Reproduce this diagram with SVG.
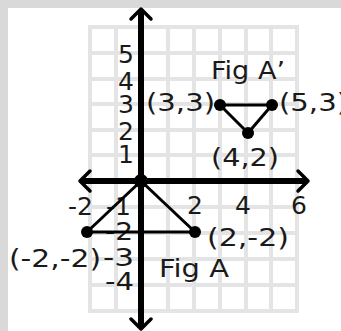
<svg xmlns="http://www.w3.org/2000/svg" width="341" height="331" viewBox="0 0 341 331">
<style>
text{font-family:"DejaVu Sans","Liberation Sans",sans-serif;font-size:25px;fill:#1a1a1a}
.grid line{stroke:#e4e4e4;stroke-width:4}
.axis{stroke:#000;stroke-width:6;fill:none}
.head{stroke:#000;stroke-width:3.5;fill:none;stroke-linecap:round;stroke-linejoin:round}
.edge{stroke:#000;stroke-width:3;fill:none}
.dot{fill:#000}
.e{text-anchor:end}
.m{text-anchor:middle}
</style>
<rect width="341" height="331" fill="#d9d9d9"/>
<rect x="8" y="8" width="333" height="323" fill="#fff"/>
<g class="grid">
<line x1="90" y1="25" x2="90" y2="313"/>
<line x1="116" y1="25" x2="116" y2="313"/>
<line x1="168" y1="25" x2="168" y2="313"/>
<line x1="194" y1="25" x2="194" y2="313"/>
<line x1="220" y1="25" x2="220" y2="313"/>
<line x1="246" y1="25" x2="246" y2="313"/>
<line x1="271" y1="25" x2="271" y2="313"/>
<line x1="297" y1="25" x2="297" y2="313"/>
<line x1="88" y1="27" x2="299" y2="27"/>
<line x1="88" y1="53" x2="299" y2="53"/>
<line x1="88" y1="79" x2="299" y2="79"/>
<line x1="88" y1="104" x2="299" y2="104"/>
<line x1="88" y1="130" x2="299" y2="130"/>
<line x1="88" y1="155" x2="299" y2="155"/>
<line x1="88" y1="207" x2="299" y2="207"/>
<line x1="88" y1="233" x2="299" y2="233"/>
<line x1="88" y1="259" x2="299" y2="259"/>
<line x1="88" y1="285" x2="299" y2="285"/>
<line x1="88" y1="311" x2="299" y2="311"/>
</g>
<g id="axes">
<line class="axis" x1="141" y1="11" x2="141" y2="327"/>
<line class="axis" x1="82" y1="181" x2="306" y2="181"/>
<polyline class="head" points="131,19 141,9 151,19"/>
<polyline class="head" points="131,319 141,329 151,319"/>
<polyline class="head" points="90,171 80,181 90,191"/>
<polyline class="head" points="298,171 308,181 298,191"/>
</g>
<g id="tick-labels">
<text class="e" x="134" y="63">5</text>
<text class="e" x="134" y="90">4</text>
<text class="e" x="134" y="113">3</text>
<text class="e" x="134" y="140">2</text>
<text class="e" x="134" y="163">1</text>
<text x="68" y="215">-2</text>
<text x="106" y="215">-1</text>
<text class="m" x="195" y="214">2</text>
<text class="m" x="243" y="214">4</text>
<text class="m" x="299" y="214">6</text>
<text x="105" y="240" textLength="28" lengthAdjust="spacingAndGlyphs">-2</text>
<text x="103" y="266" textLength="31" lengthAdjust="spacingAndGlyphs">-3</text>
<text x="105" y="290" textLength="29" lengthAdjust="spacingAndGlyphs">-4</text>
</g>
<g id="connectors">
<line class="edge" x1="87" y1="232" x2="141" y2="181"/>
<line class="edge" x1="141" y1="181" x2="195" y2="232"/>
<line class="edge" x1="87" y1="232" x2="195" y2="232"/>
<line class="edge" x1="220" y1="105" x2="272" y2="105"/>
<line class="edge" x1="220" y1="105" x2="248" y2="133"/>
<line class="edge" x1="272" y1="105" x2="248" y2="133"/>
</g>
<g id="origin"><circle class="dot" cx="141" cy="181" r="7"/></g>
<g id="figA-p1"><circle class="dot" cx="87" cy="232" r="6"/><text x="9" y="267" textLength="92" lengthAdjust="spacingAndGlyphs">(-2,-2)</text></g>
<g id="figA-p2"><circle class="dot" cx="195" cy="232" r="6"/><text x="207" y="246" textLength="82" lengthAdjust="spacingAndGlyphs">(2,-2)</text></g>
<g id="figA-label"><text x="159" y="277" textLength="70" lengthAdjust="spacingAndGlyphs">Fig A</text></g>
<g id="figA2-p1"><circle class="dot" cx="220" cy="105" r="6"/><text x="146" y="111" textLength="69" lengthAdjust="spacingAndGlyphs">(3,3)</text></g>
<g id="figA2-p2"><circle class="dot" cx="272" cy="105" r="6"/><text x="279" y="111" textLength="69" lengthAdjust="spacingAndGlyphs">(5,3)</text></g>
<g id="figA2-p3"><circle class="dot" cx="248" cy="133" r="6"/><text x="211" y="166" textLength="68" lengthAdjust="spacingAndGlyphs">(4,2)</text></g>
<g id="figA2-label"><text x="211" y="79" textLength="74" lengthAdjust="spacingAndGlyphs">Fig A’</text></g>
</svg>
